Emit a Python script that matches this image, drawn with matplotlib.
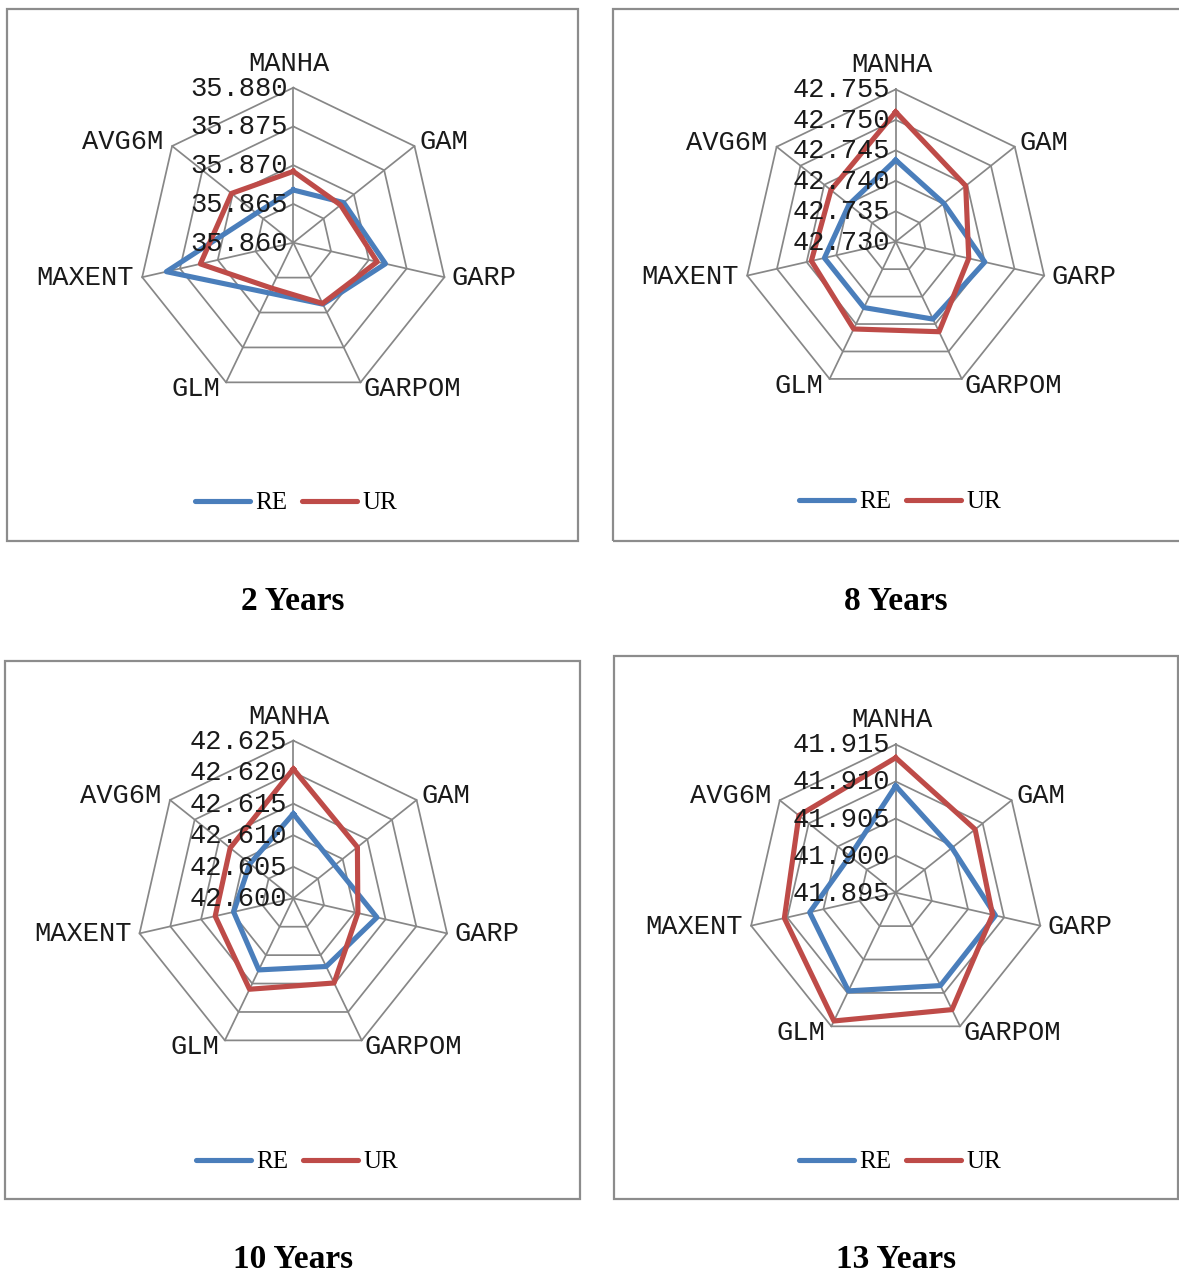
import numpy as np
import matplotlib
matplotlib.use("Agg")
import matplotlib.pyplot as plt
from matplotlib.patches import Rectangle
from matplotlib.lines import Line2D

# ---------------- data ----------------
categories = ['MANHA', 'GAM', 'GARP', 'GARPOM', 'GLM', 'MAXENT', 'AVG6M']
series_names = ['RE', 'UR']

titles = ['2 Years', '8 Years', '10 Years', '13 Years']

re_2y = [35.8668, 35.8683, 35.8722, 35.8688, 35.8672, 35.8768, 35.8661]
ur_2y = [35.8692, 35.8678, 35.8711, 35.8687, 35.8665, 35.8723, 35.8702]
ticks_2y = [35.860, 35.865, 35.870, 35.875, 35.880]

re_8y = [42.7434, 42.7401, 42.7450, 42.7441, 42.7420, 42.7420, 42.7398]
ur_8y = [42.7513, 42.7447, 42.7423, 42.7464, 42.7459, 42.7442, 42.7436]
ticks_8y = [42.730, 42.735, 42.740, 42.745, 42.750, 42.755]

re_10y = [42.6134, 42.6084, 42.6136, 42.6120, 42.6126, 42.6097, 42.6088]
ur_10y = [42.6205, 42.6130, 42.6105, 42.6149, 42.6160, 42.6127, 42.6128]
ticks_10y = [42.600, 42.605, 42.610, 42.615, 42.620, 42.625]

re_13y = [41.9094, 41.9047, 41.9088, 41.9089, 41.9097, 41.9069, 41.9029]
ur_13y = [41.9132, 41.9087, 41.9084, 41.9125, 41.9142, 41.9104, 41.9117]
ticks_13y = [41.895, 41.900, 41.905, 41.910, 41.915]

# ---------------- layout (pixels) ----------------
W, H = 1179, 1275
fig = plt.figure(figsize=(W / 100, H / 100), dpi=100)
fig.patch.set_facecolor('white')

def fx(x):
    return x / W

def fy(y):
    return 1 - y / H

panels = [
    dict(re=re_2y, ur=ur_2y, ticks=ticks_2y, c=(293.3, 242.7), r=155.0,
         box=(7, 9, 578, 540.5), leg=(296, 503), title=(293, 602)),
    dict(re=re_8y, ur=ur_8y, ticks=ticks_8y, c=(895.7, 241.7), r=152.3,
         box=(613, 9, 1183, 540.5), leg=(900, 502), title=(896, 602)),
    dict(re=re_10y, ur=ur_10y, ticks=ticks_10y, c=(293.3, 898.3), r=157.7,
         box=(5, 660.5, 580, 1199), leg=(297, 1162), title=(293, 1259)),
    dict(re=re_13y, ur=ur_13y, ticks=ticks_13y, c=(895.7, 892.7), r=148.3,
         box=(613.5, 656, 1178, 1199), leg=(900, 1162), title=(896, 1259)),
]

grid_col = '#878787'
blue = '#4A7EBB'
red = '#BE4B48'
mono = ['Liberation Mono', 'DejaVu Sans Mono']
serif = ['Liberation Serif', 'DejaVu Serif']
fs_mono = 19.5

n = len(categories)
theta = np.linspace(0, 2 * np.pi, n, endpoint=False)
theta_c = np.append(theta, theta[0])

# label placement: (ha, dx, dy) in pixels
label_fmt = [
    ('center', -4, 24),
    ('left', 5, 4),
    ('left', 7, -1),
    ('left', 3, -7),
    ('right', -6, -7),
    ('right', -8, -1),
    ('right', -9, 4),
]

for p in panels:
    # frame box
    x0, y0, x1, y1 = p['box']
    fig.add_artist(Rectangle((fx(x0), fy(y1)), fx(x1) - fx(x0), fy(y0) - fy(y1),
                             transform=fig.transFigure, fill=False,
                             edgecolor='#8C8C8C', linewidth=1.6))

    cx, cy = p['c']
    rr = p['r']
    ax = fig.add_axes([fx(cx - rr), fy(cy + rr), fx(2 * rr), (2 * rr) / H],
                      projection='polar')
    ax.set_theta_zero_location('N')
    ax.set_theta_direction(-1)
    lo, hi = p['ticks'][0], p['ticks'][-1]
    ax.set_ylim(lo, hi)
    ax.set_axis_off()

    # heptagonal grid
    for t in p['ticks'][1:]:
        ax.plot(theta_c, [t] * (n + 1), color=grid_col, lw=1.25, zorder=1,
                clip_on=False)
    for th in theta:
        ax.plot([th, th], [lo, hi], color=grid_col, lw=1.25, zorder=1,
                clip_on=False)

    # series
    ax.plot(theta_c, list(p['re']) + [p['re'][0]], color=blue, lw=3.7,
            solid_joinstyle='round', zorder=3, clip_on=False)
    ax.plot(theta_c, list(p['ur']) + [p['ur'][0]], color=red, lw=3.7,
            solid_joinstyle='round', zorder=4, clip_on=False)

    # tick labels
    for t in p['ticks']:
        ax.annotate(f'{t:.3f}', xy=(0, t), xytext=(-6, -1),
                    textcoords='offset pixels', ha='right', va='center',
                    fontsize=fs_mono, family=mono, color='#1a1a1a',
                    annotation_clip=False, zorder=5)

    # category labels
    for th, cat, (ha, dx, dy) in zip(theta, categories, label_fmt):
        ax.annotate(cat, xy=(th, hi), xytext=(dx, dy),
                    textcoords='offset pixels', ha=ha, va='center',
                    fontsize=fs_mono, family=mono, color='#1a1a1a',
                    annotation_clip=False)

    # legend
    handles = [Line2D([], [], color=blue, lw=3.7, solid_capstyle='round'),
               Line2D([], [], color=red, lw=3.7, solid_capstyle='round')]
    ax.legend(handles, series_names, loc='center',
              bbox_to_anchor=(fx(p['leg'][0]), fy(p['leg'][1])),
              bbox_transform=fig.transFigure, ncol=2, frameon=False,
              prop={'family': serif, 'size': 18}, handlelength=2.2,
              handletextpad=0.2, columnspacing=0.6, borderpad=0)

for p, t in zip(panels, titles):
    fig.text(fx(p['title'][0]), fy(p['title'][1]), t, ha='center', va='center',
             fontsize=24, fontweight='bold', family=serif, color='black')

fig.savefig('out.png', dpi=100, facecolor='white')
